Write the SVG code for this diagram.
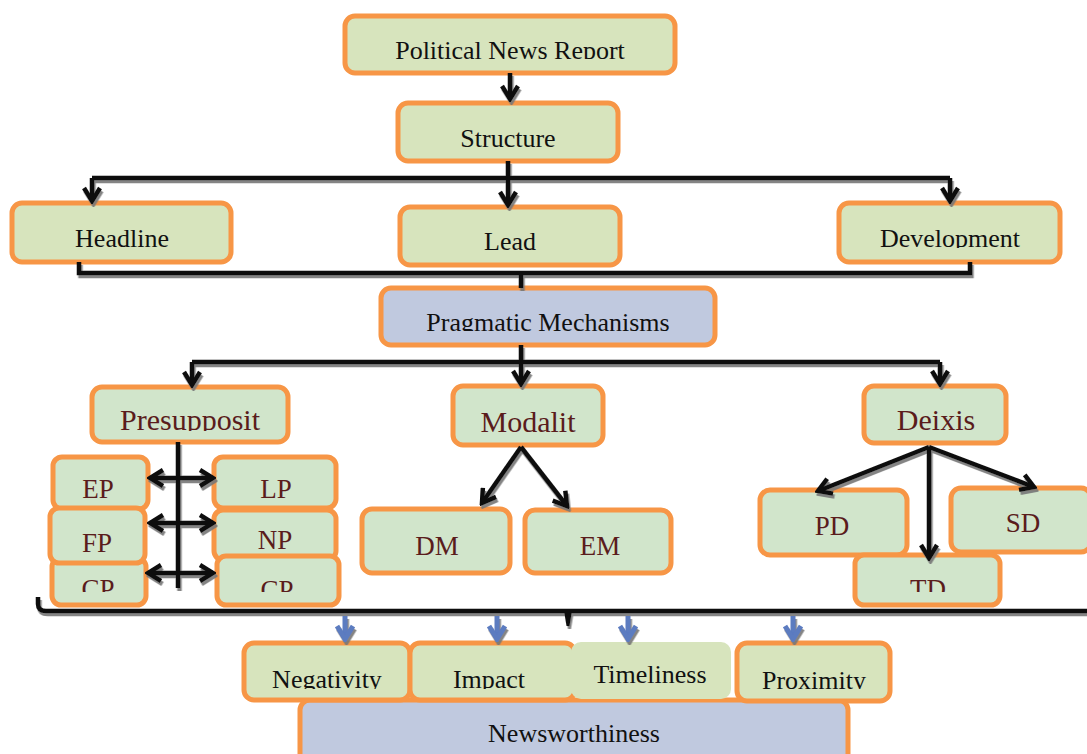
<svg xmlns="http://www.w3.org/2000/svg" width="1087" height="754" viewBox="0 0 1087 754">
<style>
.b{stroke:#f79646;stroke-width:5}
.g1{fill:#d7e4bd}
.g2{fill:#d1e5cb}
.bl{fill:#c0c9df}
.t{font-family:"Liberation Serif","Times New Roman",serif;font-size:26px;fill:#111;text-anchor:middle}
.r{fill:#5a1c1c}
.big{font-size:30px}
.sm{font-size:27px}
.c{fill:none;stroke:#111;stroke-width:4.5}
.cb{fill:none;stroke:#5b7bc0;stroke-width:5}
</style>
<defs>
<filter id="sh" x="-10%" y="-10%" width="120%" height="140%">
<feDropShadow dx="1.5" dy="3" stdDeviation="0.6" flood-color="#777" flood-opacity="0.9"/>
</filter>
<marker id="a" viewBox="0 0 18 20" refX="15" refY="10" markerWidth="18" markerHeight="20" markerUnits="userSpaceOnUse" orient="auto-start-reverse">
<path d="M2,2 L15,10 L2,18" fill="none" stroke="#111" stroke-width="4.5"/>
</marker>
<marker id="ab" viewBox="0 0 18 20" refX="15" refY="10" markerWidth="18" markerHeight="20" markerUnits="userSpaceOnUse" orient="auto">
<path d="M2,2 L15,10 L2,18" fill="none" stroke="#5b7bc0" stroke-width="5"/>
</marker>
<clipPath id="k1"><rect x="0" y="0" width="1087" height="59"/></clipPath>
<clipPath id="k2"><rect x="0" y="0" width="1087" height="248"/></clipPath>
<clipPath id="k3"><rect x="0" y="0" width="1087" height="331"/></clipPath>
<clipPath id="k4"><rect x="0" y="0" width="1087" height="431"/></clipPath>
<clipPath id="k5"><rect x="0" y="0" width="1087" height="592"/></clipPath>
<clipPath id="k6"><rect x="0" y="0" width="1087" height="689"/></clipPath>
</defs>
<rect width="1087" height="754" fill="#fff"/>

<g id="n-political"><rect class="b g1" x="345" y="16" width="330" height="57" rx="10"/><text class="t" x="510" y="59" clip-path="url(#k1)">Political News Report</text></g>
<g id="n-structure"><rect class="b g1" x="398" y="103" width="220" height="58" rx="10"/><text class="t" x="508" y="147">Structure</text></g>
<g id="n-headline"><rect class="b g1" x="12" y="203" width="219" height="59" rx="10"/><text class="t" x="122" y="247">Headline</text></g>
<g id="n-lead"><rect class="b g1" x="400" y="207" width="220" height="58" rx="10"/><text class="t" x="510" y="250">Lead</text></g>
<g id="n-development"><rect class="b g1" x="839" y="203" width="221" height="59" rx="10"/><text class="t" x="950" y="247" clip-path="url(#k2)">Development</text></g>
<g id="n-pragmatic"><rect class="b bl" x="381" y="288" width="334" height="57" rx="10"/><text class="t" x="548" y="331" clip-path="url(#k3)">Pragmatic Mechanisms</text></g>

<g id="n-presupposit"><rect class="b g2" x="92" y="387" width="196" height="55" rx="10"/><text class="t r big" x="190" y="430" clip-path="url(#k4)">Presupposit</text></g>
<g id="n-modalit"><rect class="b g2" x="453" y="386" width="150" height="59" rx="10"/><text class="t r big" x="528" y="432">Modalit</text></g>
<g id="n-deixis"><rect class="b g2" x="864" y="386" width="142" height="57" rx="10"/><text class="t r big" x="936" y="430">Deixis</text></g>

<g id="n-ep"><rect class="b g2" x="53" y="457" width="95" height="52" rx="9"/><text class="t r sm" x="98" y="498">EP</text></g>
<g id="n-cp1"><rect class="b g2" x="52" y="558" width="94" height="47" rx="9"/><text class="t r sm" x="98" y="598" clip-path="url(#k5)">CP</text></g>
<g id="n-fp"><rect class="b g2" x="50" y="508" width="95" height="55" rx="9"/><text class="t r sm" x="97" y="552">FP</text></g>
<g id="n-lp"><rect class="b g2" x="214" y="457" width="122" height="51" rx="9"/><text class="t r sm" x="276" y="498">LP</text></g>
<g id="n-np"><rect class="b g2" x="214" y="510" width="122" height="50" rx="9"/><text class="t r sm" x="275" y="549">NP</text></g>
<g id="n-cp2"><rect class="b g2" x="217" y="556" width="122" height="49" rx="9"/><text class="t r sm" x="277" y="599" clip-path="url(#k5)">CP</text></g>

<g id="n-dm"><rect class="b g2" x="362" y="509" width="148" height="64" rx="10"/><text class="t r sm" x="437" y="555">DM</text></g>
<g id="n-em"><rect class="b g2" x="525" y="510" width="146" height="63" rx="10"/><text class="t r sm" x="600" y="555">EM</text></g>

<g id="n-pd"><rect class="b g2" x="760" y="490" width="147" height="65" rx="10"/><text class="t r sm" x="832" y="535">PD</text></g>
<g id="n-sd"><rect class="b g2" x="951" y="488" width="140" height="64" rx="10"/><text class="t r sm" x="1023" y="532">SD</text></g>
<g id="n-td"><rect class="b g2" x="855" y="555" width="145" height="50" rx="9"/><text class="t r sm" x="928" y="598" clip-path="url(#k5)">TD</text></g>

<g id="n-newsworthiness"><rect class="b bl" x="300" y="700" width="548" height="64" rx="10"/><text class="t" x="574" y="742">Newsworthiness</text></g>
<g id="n-negativity"><rect class="b g1" x="244" y="643" width="166" height="57" rx="10"/><text class="t" x="327" y="688" clip-path="url(#k6)">Negativity</text></g>
<g id="n-impact"><rect class="b g1" x="410" y="643" width="165" height="57" rx="10"/><text class="t" x="489" y="688" clip-path="url(#k6)">Impact</text></g>
<g id="n-timeliness"><rect class="g1" x="571" y="642" width="160" height="57" rx="10"/><text class="t" x="650" y="683">Timeliness</text></g>
<g id="n-proximity"><rect class="b g1" x="737" y="643" width="153" height="58" rx="10"/><text class="t" x="814" y="689" clip-path="url(#k6)">Proximity</text></g>

<g id="connectors" filter="url(#sh)">
<path class="c" d="M510,73 V99" marker-end="url(#a)"/>
<path class="c" d="M508,161 V178 M92,178 H950"/>
<path class="c" d="M92,178 V201" marker-end="url(#a)"/>
<path class="c" d="M508,178 V205" marker-end="url(#a)"/>
<path class="c" d="M950,178 V201" marker-end="url(#a)"/>
<path class="c" d="M79,262 V273 H970 V262 M521,273 V288"/>
<path class="c" d="M521,345 V362 M192,362 H940"/>
<path class="c" d="M192,362 V385" marker-end="url(#a)"/>
<path class="c" d="M521,362 V384" marker-end="url(#a)"/>
<path class="c" d="M940,362 V384" marker-end="url(#a)"/>
<path class="c" d="M178,442 V588"/>
<path class="c" d="M150,478 H213" marker-start="url(#a)" marker-end="url(#a)"/>
<path class="c" d="M150,523 H213" marker-start="url(#a)" marker-end="url(#a)"/>
<path class="c" d="M148,573 H213" marker-start="url(#a)" marker-end="url(#a)"/>
<path class="c" d="M521,447 L482,503" marker-end="url(#a)"/>
<path class="c" d="M521,447 L567,506" marker-end="url(#a)"/>
<path class="c" d="M929,447 L818,491" marker-end="url(#a)"/>
<path class="c" d="M929,447 L1034,487" marker-end="url(#a)"/>
<path class="c" d="M929,447 V558" marker-end="url(#a)"/>
<path class="c" d="M38,597 V604 Q38,611 46,611 H1087"/>
<path d="M564,611 H572 L569.5,626 H566.5 Z" fill="#111"/>
<path class="cb" d="M345,616 V639" marker-end="url(#ab)"/>
<path class="cb" d="M497,616 V639" marker-end="url(#ab)"/>
<path class="cb" d="M628,616 V639" marker-end="url(#ab)"/>
<path class="cb" d="M793,616 V639" marker-end="url(#ab)"/>
</g>
</svg>
